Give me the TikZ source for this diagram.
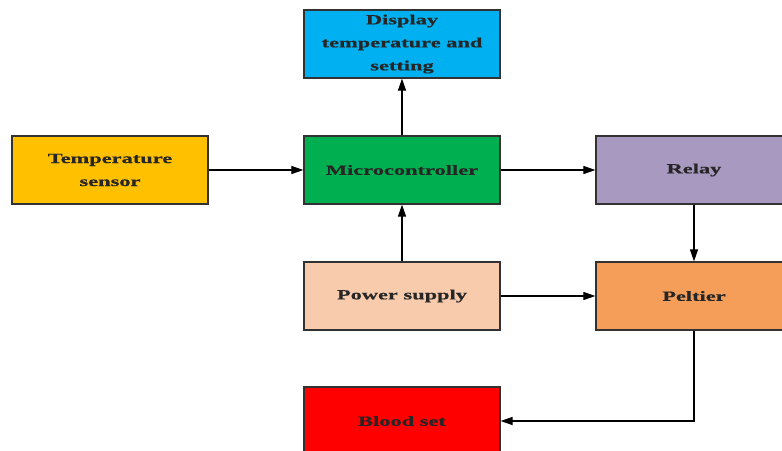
\documentclass[tikz,border=0pt]{standalone}
\usepackage{fontspec}
\setmainfont{Liberation Serif}
\newfontfamily\labfont[FakeStretch=1.6,FakeBold=0.6]{Liberation Serif Bold}
\usetikzlibrary{arrows.meta}
\definecolor{cdisp}{RGB}{0,176,240}
\definecolor{ctemp}{RGB}{255,192,0}
\definecolor{cmicro}{RGB}{0,176,80}
\definecolor{crelay}{RGB}{168,153,192}
\definecolor{cpower}{RGB}{248,203,173}
\definecolor{cpelt}{RGB}{244,158,90}
\definecolor{cblood}{RGB}{255,0,0}
\definecolor{cedge}{RGB}{50,50,50}
\tikzset{
  blockbox/.style={draw=cedge, line width=1.2pt, rectangle, minimum width=196pt, minimum height=68pt,
    inner sep=0pt, align=center, font=\labfont\fontsize{14}{23}\selectfont, text=black!85},
  conn/.style={draw=black, line width=1.1pt, -{Triangle[length=12pt,width=8pt]}}
}
\begin{document}
\begin{tikzpicture}[x=1pt,y=-1pt]
\useasboundingbox (0,0) rectangle (782,450);
\clip (0,0) rectangle (782,450);
\node[blockbox, fill=cdisp] (disp) at (402,44) {Display\\temperature and\\setting};
\node[blockbox, fill=ctemp] (temp) at (110,170) {Temperature\\sensor};
\node[blockbox, fill=cmicro] (micro) at (402,170) {Microcontroller};
\node[blockbox, fill=crelay] (relay) at (694,170) {Relay};
\node[blockbox, fill=cpower] (power) at (402,296) {Power supply};
\node[blockbox, fill=cpelt] (pelt) at (694,296) {Peltier};
\node[blockbox, fill=cblood] (blood) at (402,421) {Blood set};
\draw[conn] (temp.east) -- (micro.west);
\draw[conn] (micro.north) -- (disp.south);
\draw[conn] (micro.east) -- (relay.west);
\draw[conn] (power.north) -- (micro.south);
\draw[conn] (relay.south) -- (pelt.north);
\draw[conn] (power.east) -- (pelt.west);
\draw[conn] (pelt.south) |- (blood.east);
\end{tikzpicture}
\end{document}
